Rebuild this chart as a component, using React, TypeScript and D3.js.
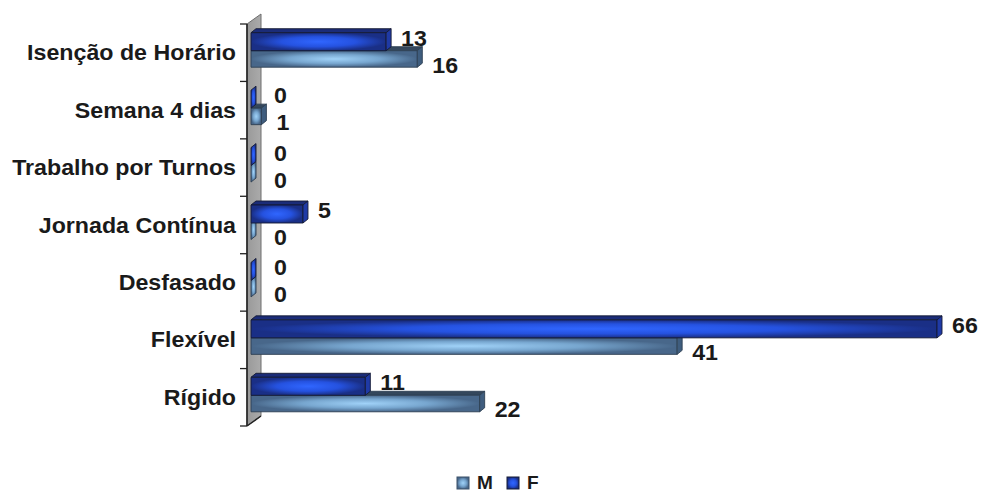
import React from 'react';
import * as d3 from 'd3';

// Categories (top to bottom) and values per series
const categories = [
  'Isenção de Horário',
  'Semana 4 dias',
  'Trabalho por Turnos',
  'Jornada Contínua',
  'Desfasado',
  'Flexível',
  'Rígido',
];
const valuesM = [16, 1, 0, 0, 0, 41, 22];
const valuesF = [13, 0, 0, 5, 0, 66, 11];
const seriesNames = ['M', 'F'];

const W = 984;
const H = 494;
const FONT = '"Liberation Sans", Arial, Helvetica, sans-serif';
const STRETCH = 'scale(1.09,1)';

const x = d3.scaleLinear().domain([0, 66]).range([251, 937]);
const y = d3.scaleBand<string>().domain(categories).range([24, 426]);

// wall (category axis plane) and bar extrusion
const wallX = 247;
const wallDepth = { dx: 14, dy: -10 };
const bar = { dx: 5, dy: -4 };

type BarStyle = { front: string; top: string; side: string; stroke: string };

const styleM: BarStyle = { front: 'url(#gradM)', top: '#34475c', side: '#3f5d7e', stroke: '#2e3f52' };
const styleF: BarStyle = { front: 'url(#gradF)', top: '#1b2c78', side: '#1f3aa6', stroke: '#141a33' };

function Bar3D({ value, top, h, s }: { value: number; top: number; h: number; s: BarStyle }) {
  const xa = x(0);
  const xb = x(value);
  const { dx, dy } = bar;
  const topFace = `${xa},${top} ${xa + dx},${top + dy} ${xb + dx},${top + dy} ${xb},${top}`;
  const sideFace = `${xb},${top} ${xb + dx},${top + dy} ${xb + dx},${top + h + dy} ${xb},${top + h}`;
  return (
    <g strokeWidth={0.9} stroke={s.stroke} strokeLinejoin="round">
      {value > 0 && <polygon points={topFace} fill={s.top} />}
      {value > 0 && <rect x={xa} y={top} width={xb - xa} height={h} fill={s.front} />}
      <polygon points={sideFace} fill={value > 0 ? s.side : s.front} />
    </g>
  );
}

function valueLabelX(v: number) {
  return Math.max(x(v) + 15, x(0) + 23);
}

export default function App() {
  const ticks = [...categories.map((c) => y(c) as number), 426];
  return (
    <svg
      width={W}
      height={H}
      viewBox={`0 0 ${W} ${H}`}
      style={{ position: 'absolute', left: 0, top: 0, background: '#ffffff' }}
      fontFamily={FONT}
      fontWeight="bold"
    >
      <defs>
        <radialGradient id="gradF" cx="0.5" cy="0.5" r="0.5">
          <stop offset="0" stopColor="#3066ff" />
          <stop offset="0.55" stopColor="#2552e0" />
          <stop offset="1" stopColor="#1a2f86" />
        </radialGradient>
        <radialGradient id="gradM" cx="0.5" cy="0.5" r="0.5">
          <stop offset="0" stopColor="#a0d2f8" />
          <stop offset="0.55" stopColor="#77a6cf" />
          <stop offset="1" stopColor="#48678a" />
        </radialGradient>
        <linearGradient id="wallGrad" x1="0" x2="1" y1="0" y2="0">
          <stop offset="0" stopColor="#999999" />
          <stop offset="1" stopColor="#ababab" />
        </linearGradient>
      </defs>

      {/* side wall */}
      <polygon
        points={`${wallX},24 ${wallX + wallDepth.dx},${24 + wallDepth.dy} ${wallX + wallDepth.dx},${426 + wallDepth.dy} ${wallX},426`}
        fill="url(#wallGrad)"
        stroke="#6e6e6e"
        strokeWidth={1}
      />
      <line x1={wallX} y1={426} x2={wallX + wallDepth.dx} y2={426 + wallDepth.dy} stroke="#222" strokeWidth={1.5} />
      <line x1={wallX} y1={24} x2={wallX} y2={426} stroke="#222" strokeWidth={1.6} />
      {ticks.map((t, i) => (
        <line key={i} x1={240} x2={wallX} y1={t} y2={t} stroke="#222" strokeWidth={1.3} />
      ))}

      {/* bars: M sits below F in each band */}
      {categories.map((c, i) => {
        const cy = (y(c) as number) + y.bandwidth() / 2;
        return (
          <g key={c}>
            <Bar3D value={valuesM[i]} top={cy - 2} h={16.5} s={styleM} />
            <Bar3D value={valuesF[i]} top={cy - 20} h={18} s={styleF} />
          </g>
        );
      })}

      {/* category labels */}
      {categories.map((c) => {
        const cy = (y(c) as number) + y.bandwidth() / 2;
        return (
          <text
            key={c}
            transform={`translate(236,${cy + 7.5}) ${STRETCH}`}
            textAnchor="end"
            fontSize={21.3}
            fill="#1a1a1a"
          >
            {c}
          </text>
        );
      })}

      {/* value labels */}
      {categories.map((c, i) => {
        const cy = (y(c) as number) + y.bandwidth() / 2;
        return (
          <g key={c} fontSize={21.3} fill="#1a1a1a">
            <text transform={`translate(${valueLabelX(valuesF[i])},${cy - 7}) ${STRETCH}`}>{valuesF[i]}</text>
            <text transform={`translate(${valueLabelX(valuesM[i])},${cy + 20}) ${STRETCH}`}>{valuesM[i]}</text>
          </g>
        );
      })}

      {/* legend */}
      {seriesNames.map((name, i) => {
        const lx = 457 + i * 50;
        return (
          <g key={name}>
            <rect
              x={lx}
              y={477}
              width={12}
              height={12}
              fill={name === 'M' ? 'url(#gradM)' : 'url(#gradF)'}
              stroke={name === 'M' ? '#3a5068' : '#141a33'}
              strokeWidth={1}
            />
            <text transform={`translate(${lx + 20},489) ${STRETCH}`} fontSize={17.5} fill="#1a1a1a">
              {name}
            </text>
          </g>
        );
      })}
    </svg>
  );
}
